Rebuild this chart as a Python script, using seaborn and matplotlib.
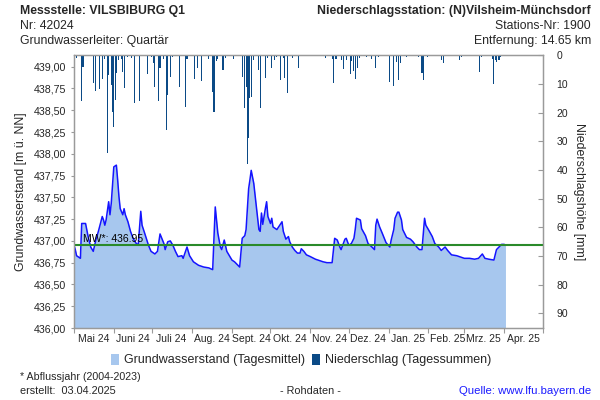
import matplotlib
matplotlib.use("Agg")
import matplotlib.pyplot as plt
import matplotlib.dates as mdates
from matplotlib.patches import Patch
import numpy as np
import pandas as pd
import seaborn as sns

# ---------------- data ----------------
start_date = "2024-05-01"
end_date = "2025-05-01"

gw_day = [0, 1, 2, 5, 6, 9, 11, 13, 15, 17, 19, 22, 23, 24, 25, 27, 28, 29, 31, 33,
          34, 35, 36, 38, 39, 40, 42, 44, 46, 48, 50, 52, 53, 55, 58, 60, 63, 65, 67, 70,
          71, 73, 75, 77, 79, 81, 84, 85, 88, 90, 93, 97, 101, 105, 108, 110, 112, 114, 115, 117,
          119, 123, 125, 129, 131, 133, 134, 136, 137, 138, 140, 142, 144, 145, 146, 147, 149, 150, 151, 153,
          154, 155, 158, 162, 163, 165, 167, 168, 170, 172, 174, 176, 177, 179, 181, 184, 188, 192, 194, 197,
          201, 203, 205, 207, 208, 211, 212, 214, 216, 218, 219, 220, 223, 224, 227, 229, 232, 234, 235, 236,
          238, 240, 243, 246, 247, 249, 250, 252, 253, 255, 256, 259, 262, 264, 267, 269, 271, 273, 274, 276,
          279, 281, 284, 286, 289, 291, 294, 298, 304, 308, 312, 315, 318, 320, 323, 327, 329, 331, 333, 335,
          336]
gw_level = [436.95, 436.90, 436.83, 436.80, 437.20, 437.20, 437.05, 436.93, 436.88, 437.01,
            437.11, 437.28, 437.24, 437.18, 437.24, 437.45, 437.30, 437.43, 437.85, 437.87,
            437.70, 437.51, 437.37, 437.30, 437.37, 437.30, 437.22, 437.11, 437.03, 436.98,
            436.95, 437.34, 437.18, 437.09, 436.95, 436.88, 436.85, 436.88, 437.08, 436.97,
            436.90, 436.99, 437.00, 436.95, 436.88, 436.82, 436.83, 436.80, 436.93, 436.83,
            436.76, 436.72, 436.70, 436.69, 436.67, 437.39, 437.09, 436.93, 436.90, 437.01,
            436.88, 436.78, 436.76, 436.70, 437.03, 437.06, 437.13, 437.60, 437.70, 437.81,
            437.66, 437.39, 437.13, 437.11, 437.32, 437.19, 437.37, 437.45, 437.28, 437.20,
            437.26, 437.16, 437.13, 437.22, 437.11, 437.02, 437.05, 436.99, 436.93, 436.89,
            436.86, 436.86, 436.91, 436.88, 436.84, 436.82, 436.79, 436.77, 436.76, 436.75,
            436.75, 437.03, 437.01, 436.93, 436.90, 437.02, 437.03, 436.95, 436.97, 437.03,
            437.13, 437.26, 437.24, 437.14, 437.06, 436.97, 436.93, 436.90, 437.18, 437.25,
            437.16, 437.09, 436.98, 436.93, 437.01, 437.13, 437.26, 437.33, 437.33, 437.24,
            437.13, 437.04, 437.02, 436.99, 436.93, 436.90, 436.90, 437.26, 437.18, 437.13,
            437.05, 436.97, 436.93, 436.89, 436.93, 436.89, 436.84, 436.83, 436.80, 436.80,
            436.79, 436.80, 436.85, 436.80, 436.79, 436.78, 436.90, 436.93, 436.96, 436.96,
            436.95]

prec_day = [2, 6, 7, 15, 17, 20, 22, 24, 26, 27, 29, 30, 31, 32, 33, 35, 37, 38, 39, 42,
            45, 47, 51, 57, 60, 62, 63, 66, 67, 70, 72, 73, 75, 77, 82, 87, 88, 94, 96, 99,
            105, 108, 109, 111, 112, 116, 118, 124, 131, 133, 134, 135, 136, 137, 138, 140, 144, 145, 149, 151,
            154, 156, 158, 161, 163, 164, 166, 170, 175, 196, 201, 202, 204, 208, 210, 212, 215, 216, 218, 219,
            221, 222, 228, 232, 235, 237, 246, 249, 251, 253, 254, 259, 268, 271, 272, 275, 286, 288, 300, 302,
            316, 317, 326, 327, 328, 329, 331, 332]
prec_mm = [0.8, 16, 4, 9.8, 12.4, 11.9, 8.3, 1.4, 34, 6.9, 10.4, 19.9, 24.9, 15.6, 6.3, 1.5, 1.2, 5.7, 11.5, 0.6,
           1, 16.7, 15.9, 6.6, 0.5, 2.8, 10.9, 15.9, 4.5, 1.3, 26, 13.8, 7.5, 0.6, 11.2, 17.9, 1.2, 8.4, 4.5, 9.1,
           1.2, 12.7, 19.7, 1.9, 1.2, 5.1, 1, 1.2, 7.4, 18.5, 10.9, 38, 28.7, 15, 14.6, 1.7, 5.1, 18.5, 8, 1,
           4.5, 1.5, 0.5, 8.6, 1, 8, 13.3, 0.8, 4.5, 0.8, 1.2, 9.8, 1.2, 1.6, 4.8, 1.6, 6.5, 2, 5.5, 8.3,
           4.3, 1, 0.5, 1.2, 4.5, 0.5, 9.2, 10.6, 2.5, 8.6, 2.7, 0.6, 0.5, 6.3, 8.6, 0.6, 1.6, 2.6, 1.8, 0.6,
           5.9, 0.5, 1.2, 10.1, 1.7, 2.5, 1.8, 0.6]

mean_level = 436.95
month_labels = ["Mai 24", "Juni 24", "Juli 24", "Aug. 24", "Sept. 24", "Okt. 24",
                "Nov. 24", "Dez. 24", "Jan. 25", "Feb. 25", "Mrz. 25", "Apr. 25"]
gw_ticks = [436.00, 436.25, 436.50, 436.75, 437.00, 437.25, 437.50, 437.75,
            438.00, 438.25, 438.50, 438.75, 439.00]
prec_ticks = [0, 10, 20, 30, 40, 50, 60, 70, 80, 90]

# ---------------- style ----------------
sns.set_theme(style="white")
plt.rcParams["font.family"] = ["Liberation Sans", "DejaVu Sans"]

FILL = "#a7c7ee"
LINE = "#1414ff"
BAR = "#0b4a86"
GREEN = "#2a8a2a"
SPINE = "#9a9a9a"

t0 = pd.Timestamp(start_date)
gw = pd.DataFrame({"date": t0 + pd.to_timedelta(gw_day, unit="D"), "level": gw_level})
pr = pd.DataFrame({"date": t0 + pd.to_timedelta(prec_day, unit="D"), "mm": prec_mm})

fig = plt.figure(figsize=(6, 4), dpi=100)
L, R, T, B = 74, 542.7, 55.3, 328
ax = fig.add_axes([L / 600, 1 - B / 400, (R - L) / 600, (B - T) / 400])

ax.fill_between(gw["date"], 436.0, gw["level"], color=FILL, lw=0, zorder=1)
sns.lineplot(data=gw, x="date", y="level", ax=ax, color=LINE, lw=1.1,
             estimator=None, sort=False, zorder=3)
ax.axhline(mean_level, color=GREEN, lw=1.5, zorder=4)
ax.text(pd.Timestamp("2024-05-08"), mean_level + 0.07, "MW*: 436.95", fontsize=7.5,
        color="black", va="center", ha="left", zorder=5)

ax.set_xlim(pd.Timestamp(start_date), pd.Timestamp(end_date))
ax.set_ylim(436.0, 439.131)
ax.set_yticks(gw_ticks)
ax.set_yticklabels([f"{v:.2f}".replace(".", ",") for v in gw_ticks], fontsize=7.7)
ax.set_xlabel("")
ax.set_ylabel("Grundwasserstand [m ü. NN]", fontsize=8.8, labelpad=5)

ax.xaxis.set_major_locator(mdates.MonthLocator())
ax.xaxis.set_major_formatter(plt.NullFormatter())
ax.xaxis.set_minor_locator(mdates.MonthLocator(bymonthday=16))
ax.set_xticks(ax.get_xticks(minor=True)[:len(month_labels)], minor=True)
ax.set_xticklabels(month_labels, minor=True, fontsize=7.5)
ax.tick_params(axis="x", which="major", length=3.5, width=0.8, color=SPINE, direction="out", bottom=True)
ax.tick_params(axis="x", which="minor", length=0, pad=4, bottom=True)
ax.tick_params(axis="y", which="major", length=2.5, width=0.8, color=SPINE, direction="out", left=True, pad=3)

ax2 = ax.twinx()
ax2.bar(pr["date"], pr["mm"], width=0.85, color=BAR, lw=0, align="center", zorder=2)
ax2.set_ylim(95.1, 0)
ax2.set_yticks(prec_ticks)
ax2.set_yticklabels([str(v) for v in prec_ticks], fontsize=7.5)
ax2.set_ylabel("Niederschlagshöhe [mm]", fontsize=8.9, rotation=-90, labelpad=12)
ax2.tick_params(axis="y", length=3.5, width=0.8, color=SPINE, direction="in", right=True, pad=10)
ax2.set_xlim(pd.Timestamp(start_date), pd.Timestamp(end_date))
ax2.grid(False)
ax.grid(False)

for a in (ax, ax2):
    for s in a.spines.values():
        s.set_color(SPINE)
        s.set_linewidth(0.9)
        s.set_visible(True)

# header texts
fig.text(20 / 600, 1 - 11 / 400, "Messstelle: VILSBIBURG Q1", fontsize=8.8, fontweight="bold", va="center", ha="left")
fig.text(20 / 600, 1 - 26 / 400, "Nr: 42024", fontsize=8.8, va="center", ha="left")
fig.text(20 / 600, 1 - 41 / 400, "Grundwasserleiter: Quartär", fontsize=8.8, va="center", ha="left")
fig.text(591 / 600, 1 - 11 / 400, "Niederschlagsstation: (N)Vilsheim-Münchsdorf", fontsize=8.8, fontweight="bold", va="center", ha="right")
fig.text(591 / 600, 1 - 26 / 400, "Stations-Nr: 1900", fontsize=8.8, va="center", ha="right")
fig.text(591 / 600, 1 - 41 / 400, "Entfernung: 14.65 km", fontsize=8.8, va="center", ha="right")

# legend
handles = [Patch(facecolor=FILL, edgecolor="none"), Patch(facecolor=BAR, edgecolor="none")]
fig.legend(handles, ["Grundwasserstand (Tagesmittel)", "Niederschlag (Tagessummen)"],
           loc="center", bbox_to_anchor=(301 / 600, 1 - 360 / 400), ncol=2, frameon=False,
           fontsize=9, handlelength=0.6, handleheight=1.0, handletextpad=0.4, columnspacing=0.6)

# footer
fig.text(20 / 600, 1 - 377 / 400, "* Abflussjahr (2004-2023)", fontsize=7.7, va="center", ha="left")
fig.text(20 / 600, 1 - 391 / 400, "erstellt:  03.04.2025", fontsize=7.8, va="center", ha="left")
fig.text(310 / 600, 1 - 391 / 400, "- Rohdaten -", fontsize=7.8, va="center", ha="center")
fig.text(591 / 600, 1 - 391 / 400, "Quelle: www.lfu.bayern.de", fontsize=8.2, color="#1a1aff", va="center", ha="right")

fig.savefig("out.png", dpi=100)
